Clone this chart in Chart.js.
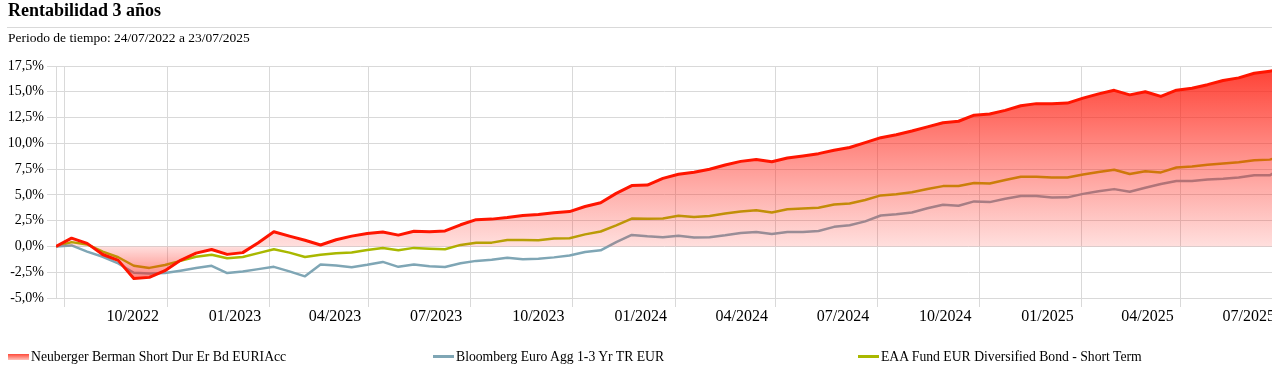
<!DOCTYPE html>
<html lang="es">
<head>
<meta charset="UTF-8" />
<title>Rentabilidad 3 años</title>
<script src="https://cdn.jsdelivr.net/npm/chart.js"></script>
<style>
  body {
    margin: 0;
    width: 1272px;
    height: 369px;
    overflow: hidden;
    background: #fff;
    color: #000;
    font-family: 'Liberation Serif', serif;
    position: relative;
  }
  #wrap { position: absolute; left: 0; top: 0; width: 1272px; height: 369px; }
  #title { position: absolute; left: 8px; top: 0px; font-size: 18px; font-weight: bold; }
  #rule { position: absolute; left: 7px; right: 0; top: 27px; border-top: 1px solid #d9d9d9; }
  #subtitle { position: absolute; left: 8px; top: 30px; font-size: 13.5px; }
  .item { position: absolute; top: 349px; font-size: 13.7px; white-space: nowrap; }
  .mark { display: inline-block; width: 21px; height: 3px; vertical-align: middle; margin-right: 2px; position: relative; top: -1px; }
</style>
</head>
<body>

<div id="wrap"><canvas id="chart" width="1272" height="369"></canvas></div>
<div id="title">Rentabilidad 3 años</div>
<div id="rule"></div>
<div id="subtitle">Periodo de tiempo: 24/07/2022 a 23/07/2025</div>

<div class="item" style="left:8px"><span class="mark" style="height:6px;background:linear-gradient(#ff4a3a,#ffc4bc)"></span>Neuberger Berman Short Dur Er Bd EURIAcc</div>
<div class="item" style="left:433px"><span class="mark" style="background:#7fa6b5"></span>Bloomberg Euro Agg 1-3 Yr TR EUR</div>
<div class="item" style="left:858px"><span class="mark" style="background:#a9b800"></span>EAA Fund EUR Diversified Bond - Short Term</div>

<script>
  const startDate = '2022-07-24';
  const endDate = '2025-07-23';

  const dates = [
    '2022-07-24', '2022-08-07', '2022-08-21', '2022-09-04', '2022-09-18', '2022-10-02', '2022-10-16', '2022-10-30',
    '2022-11-13', '2022-11-27', '2022-12-11', '2022-12-25', '2023-01-08', '2023-01-22', '2023-02-05', '2023-02-19',
    '2023-03-05', '2023-03-19', '2023-04-02', '2023-04-16', '2023-04-30', '2023-05-14', '2023-05-28', '2023-06-11',
    '2023-06-25', '2023-07-09', '2023-07-23', '2023-08-06', '2023-08-20', '2023-09-03', '2023-09-17', '2023-10-01',
    '2023-10-15', '2023-10-29', '2023-11-12', '2023-11-26', '2023-12-10', '2023-12-24', '2024-01-07', '2024-01-21',
    '2024-02-04', '2024-02-18', '2024-03-03', '2024-03-17', '2024-03-31', '2024-04-14', '2024-04-28', '2024-05-12',
    '2024-05-26', '2024-06-09', '2024-06-23', '2024-07-07', '2024-07-21', '2024-08-04', '2024-08-18', '2024-09-01',
    '2024-09-15', '2024-09-29', '2024-10-13', '2024-10-27', '2024-11-10', '2024-11-24', '2024-12-08', '2024-12-22',
    '2025-01-05', '2025-01-19', '2025-02-02', '2025-02-16', '2025-03-02', '2025-03-16', '2025-03-30', '2025-04-13',
    '2025-04-27', '2025-05-11', '2025-05-25', '2025-06-08', '2025-06-22', '2025-07-06', '2025-07-20', '2025-07-23'
  ];

  // Neuberger Berman Short Dur Er Bd EURIAcc (%)
  const fundValues = [
    0, 0.8, 0.3, -0.78, -1.35, -3.1, -3.0, -2.35,
    -1.35, -0.65, -0.3, -0.77, -0.6, 0.36, 1.43, 1.0,
    0.6, 0.14, 0.65, 1.0, 1.25, 1.4, 1.1, 1.48,
    1.42, 1.5, 2.1, 2.6, 2.65, 2.8, 3.0, 3.1,
    3.27, 3.38, 3.87, 4.24, 5.15, 5.9, 5.95, 6.6,
    7.0, 7.2, 7.48, 7.9, 8.25, 8.44, 8.22, 8.58,
    8.78, 9.0, 9.33, 9.6, 10.07, 10.55, 10.84, 11.19,
    11.6, 12.0, 12.14, 12.73, 12.85, 13.2, 13.65, 13.85,
    13.85, 13.9, 14.38, 14.8, 15.14, 14.7, 15.0, 14.55,
    15.15, 15.35, 15.69, 16.1, 16.35, 16.8, 17.0, 17.05
  ];

  // Bloomberg Euro Agg 1-3 Yr TR EUR (%)
  const indexValues = [
    0, 0.1, -0.5, -1.0, -1.65, -2.55, -2.62, -2.57,
    -2.35, -2.1, -1.88, -2.58, -2.43, -2.2, -1.98, -2.42,
    -2.9, -1.74, -1.85, -2.02, -1.78, -1.5, -1.98, -1.76,
    -1.93, -2.0, -1.63, -1.4, -1.3, -1.1, -1.24, -1.2,
    -1.06, -0.88, -0.54, -0.38, 0.42, 1.12, 0.98, 0.9,
    1.03, 0.86, 0.9, 1.08, 1.3, 1.4, 1.2, 1.41,
    1.4, 1.49, 1.9, 2.05, 2.43, 3.0, 3.12, 3.3,
    3.7, 4.05, 3.95, 4.37, 4.3, 4.62, 4.89, 4.89,
    4.74, 4.76, 5.1, 5.36, 5.56, 5.3, 5.7, 6.05,
    6.34, 6.34, 6.5, 6.57, 6.68, 6.9, 6.9, 7.09
  ];

  // EAA Fund EUR Diversified Bond - Short Term (%)
  const categoryValues = [
    0, 0.42, 0.19, -0.5, -1.05, -1.87, -2.08, -1.8,
    -1.4, -1.0, -0.8, -1.15, -1.03, -0.65, -0.28, -0.6,
    -1.02, -0.8, -0.67, -0.58, -0.35, -0.16, -0.37, -0.14,
    -0.22, -0.27, 0.15, 0.35, 0.37, 0.62, 0.62, 0.6,
    0.77, 0.8, 1.17, 1.45, 2.05, 2.7, 2.68, 2.72,
    2.97, 2.86, 2.96, 3.2, 3.4, 3.5, 3.3, 3.6,
    3.67, 3.75, 4.06, 4.16, 4.5, 4.95, 5.07, 5.25,
    5.57, 5.85, 5.86, 6.16, 6.1, 6.44, 6.75, 6.76,
    6.68, 6.68, 6.97, 7.22, 7.44, 7.02, 7.3, 7.18,
    7.65, 7.75, 7.92, 8.05, 8.17, 8.36, 8.42, 8.5
  ];

  const labelDates = [
    '2022-10-01', '2023-01-01', '2023-04-01', '2023-07-01', '2023-10-01', '2024-01-01',
    '2024-04-01', '2024-07-01', '2024-10-01', '2025-01-01', '2025-04-01', '2025-07-01'
  ];
  const gridDates = [
    '2022-08-01', '2022-11-01', '2023-02-01', '2023-05-01', '2023-08-01', '2023-11-01',
    '2024-02-01', '2024-05-01', '2024-08-01', '2024-11-01', '2025-02-01', '2025-05-01'
  ];

  const dayOf = s => Math.round((Date.parse(s) - Date.parse(startDate)) / 86400000);
  const toPoints = vals => vals.map((v, i) => ({ x: dayOf(dates[i]), y: v }));

  const labelByDay = {};
  labelDates.forEach(d => { labelByDay[dayOf(d)] = d.slice(5, 7) + '/' + d.slice(0, 4); });
  const tickDays = labelDates.concat(gridDates).map(dayOf).sort((a, b) => a - b);

  const gridColor = '#d9d9d9';
  const fontFamily = "'Liberation Serif', serif";

  function redFill(context) {
    const chart = context.chart;
    const area = chart.chartArea;
    if (!area) return 'rgba(255,0,0,0.3)';
    const zero = chart.scales.y.getPixelForValue(0);
    const z = (zero - area.top) / (area.bottom - area.top);
    const g = chart.ctx.createLinearGradient(0, area.top, 0, area.bottom);
    g.addColorStop(0, 'rgba(255,30,15,0.85)');
    g.addColorStop(z, 'rgba(255,40,30,0.15)');
    g.addColorStop(1, 'rgba(255,30,15,0.8)');
    return g;
  }

  new Chart(document.getElementById('chart'), {
    type: 'line',
    data: {
      datasets: [
        {
          label: 'Neuberger Berman Short Dur Er Bd EURIAcc',
          data: toPoints(fundValues),
          borderColor: '#ff1500',
          borderWidth: 3,
          backgroundColor: redFill,
          fill: 'origin'
        },
        {
          label: 'Bloomberg Euro Agg 1-3 Yr TR EUR',
          data: toPoints(indexValues),
          borderColor: '#7fa6b5',
          borderWidth: 2.5,
          fill: false
        },
        {
          label: 'EAA Fund EUR Diversified Bond - Short Term',
          data: toPoints(categoryValues),
          borderColor: '#a9b800',
          borderWidth: 2.5,
          fill: false
        }
      ]
    },
    options: {
      responsive: false,
      animation: false,
      layout: { padding: { top: 66, left: 0, right: 0, bottom: 43 } },
      elements: {
        point: { radius: 0 },
        line: { tension: 0, borderJoinStyle: 'round' }
      },
      plugins: {
        legend: { display: false },
        tooltip: { enabled: false }
      },
      scales: {
        x: {
          type: 'linear',
          min: 0,
          max: dayOf(endDate) - 1,
          afterBuildTicks: s => { s.ticks = tickDays.map(v => ({ value: v })); },
          afterFit: s => { s.height = 28; s.paddingLeft = 0; s.paddingRight = 0; },
          ticks: {
            autoSkip: false,
            maxRotation: 0,
            minRotation: 0,
            padding: 0,
            color: '#000',
            font: { family: fontFamily, size: 16 },
            callback: v => labelByDay[v] || ''
          },
          grid: {
            color: c => (c.tick && labelByDay[c.tick.value]) ? 'rgba(0,0,0,0)' : gridColor,
            tickLength: 9
          },
          border: { color: gridColor }
        },
        y: {
          min: -5,
          max: 17.5,
          afterFit: s => { s.width = 56; },
          ticks: {
            stepSize: 2.5,
            padding: 3,
            color: '#000',
            font: { family: fontFamily, size: 14 },
            callback: v => v.toFixed(1).replace('.', ',') + '%'
          },
          grid: { color: gridColor, tickLength: 9 },
          border: { color: gridColor }
        }
      }
    }
  });
</script>
</body>
</html>
